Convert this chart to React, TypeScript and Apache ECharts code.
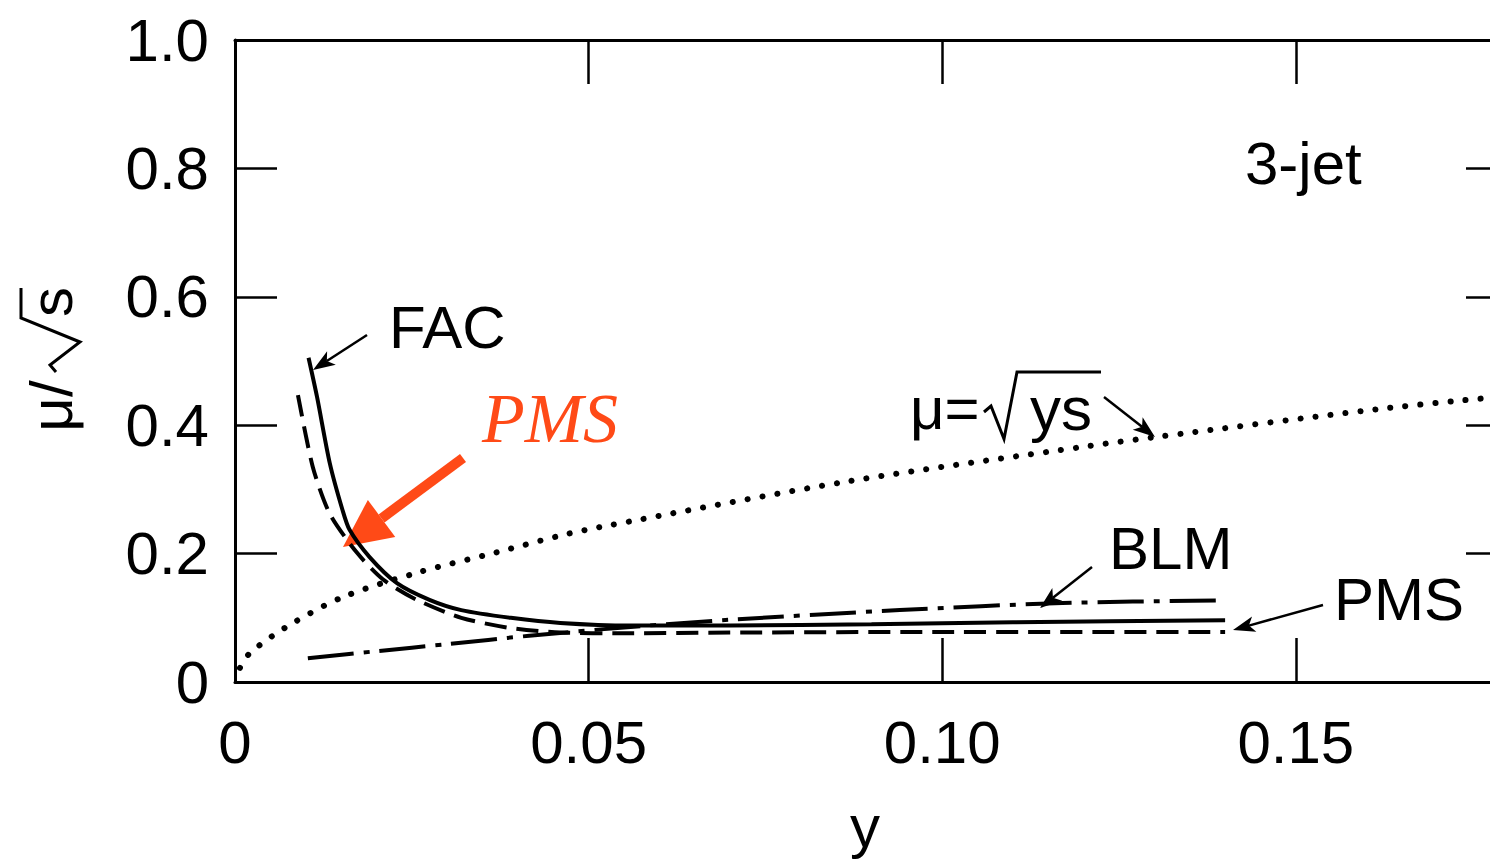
import React, { useEffect, useRef } from "react";
import * as echarts from "echarts";

// ---- data ----
const xTickLabels: Record<string, string> = { "0": "0", "0.05": "0.05", "0.1": "0.10", "0.15": "0.15" };
const yTickLabels: Record<string, string> = { "0": "0", "0.2": "0.2", "0.4": "0.4", "0.6": "0.6", "0.8": "0.8", "1": "1.0" };

const facX = [0.0104, 0.0116, 0.0134, 0.0152, 0.0162, 0.019, 0.0229, 0.0275, 0.032, 0.039, 0.046, 0.056, 0.07, 0.09, 0.11, 0.14];
const facY = [0.505, 0.444, 0.341, 0.268, 0.237, 0.195, 0.154, 0.128, 0.112, 0.1, 0.092, 0.088, 0.088, 0.09, 0.093, 0.096];

const pmsX = [0.0089, 0.011, 0.0134, 0.0172, 0.0209, 0.0257, 0.032, 0.039, 0.046, 0.055, 0.07, 0.1, 0.14];
const pmsY = [0.447, 0.335, 0.262, 0.202, 0.16, 0.128, 0.1, 0.084, 0.077, 0.076, 0.077, 0.078, 0.078];

const blmX = [0.0103, 0.02, 0.03, 0.0416, 0.055, 0.07, 0.094, 0.117, 0.14];
const blmY = [0.037, 0.048, 0.059, 0.072, 0.085, 0.097, 0.112, 0.123, 0.127];

const sqrtX = [0.0007, 0.0021, 0.0073, 0.0152, 0.026, 0.037, 0.046, 0.0515, 0.0864, 0.121, 0.1298, 0.1616, 0.1767];
const sqrtY = [0.022, 0.045, 0.086, 0.132, 0.171, 0.202, 0.228, 0.241, 0.312, 0.368, 0.381, 0.425, 0.442];

const zip = (xs: number[], ys: number[]) => xs.map((x, i) => [x, ys[i]]);

const FONT = "'Liberation Sans', Arial, Helvetica, sans-serif";

function arrow(tail: number[], tip: number[], len: number, half: number, width: number, color: string, barb = 0.75) {
  const dx = tip[0] - tail[0];
  const dy = tip[1] - tail[1];
  const L = Math.hypot(dx, dy);
  const ux = dx / L, uy = dy / L;
  const px = -uy, py = ux;
  const bx = tip[0] - ux * len, by = tip[1] - uy * len;
  const ix = tip[0] - ux * len * barb, iy = tip[1] - uy * len * barb;
  return [
    { type: "line", silent: true, shape: { x1: tail[0], y1: tail[1], x2: ix, y2: iy }, style: { stroke: color, lineWidth: width } },
    {
      type: "polygon",
      silent: true,
      shape: { points: [tip, [bx + px * half, by + py * half], [ix, iy], [bx - px * half, by - py * half]] },
      style: { fill: color },
    },
  ];
}

function text(t: string, x: number, y: number, size: number, opts: any = {}) {
  return {
    type: "text",
    x,
    y,
    rotation: opts.rotation || 0,
    silent: true,
    style: {
      text: t,
      fill: opts.color || "#000",
      font: `${opts.italic ? "italic " : ""}${size}px ${opts.family || FONT}`,
      align: opts.align || "left",
      verticalAlign: "middle",
    },
  };
}

export default function App() {
  const ref = useRef<HTMLDivElement>(null);
  useEffect(() => {
    document.body.style.margin = "0";
    const chart = echarts.init(ref.current!, undefined, { renderer: "svg" });
    const axisLine = { onZero: false, lineStyle: { color: "#000", width: 3 } };
    const xLabel = {
      fontSize: 60,
      fontFamily: FONT,
      color: "#000",
      margin: 30,
      showMaxLabel: false,
      formatter: (v: number) => xTickLabels[String(+v.toFixed(2))] ?? "",
    };
    const yLabel = {
      fontSize: 60,
      fontFamily: FONT,
      color: "#000",
      margin: 26,
      formatter: (v: number) => yTickLabels[String(+v.toFixed(1))] ?? "",
    };
    const xTick = { inside: true, length: 44, lineStyle: { color: "#000", width: 2.5 } };
    const yTick = { inside: true, length: 42, lineStyle: { color: "#000", width: 2.5 } };

    const graphic: any[] = [
      text("3-jet", 1245, 163, 60),
      text("FAC", 389, 327, 60),
      text("BLM", 1109, 548, 60),
      text("PMS", 1334, 599, 60),
      text("PMS", 482, 418, 70, { italic: true, color: "#ff4a17", family: "'Liberation Serif', serif" }),
      text("μ=", 910, 408, 60),
      { type: "polyline", silent: true, shape: { points: [[984, 412], [991, 406], [1004, 439], [1017, 372], [1101, 372]] }, style: { stroke: "#000", lineWidth: 3, fill: null } },
      text("ys", 1030, 408, 62),
      text("y", 865, 826, 60, { align: "center" }),
      // y axis name: μ/√s, rotated
      text("μ/", 51, 406, 60, { align: "center", rotation: Math.PI / 2 }),
      { type: "polyline", silent: true, shape: { points: [[21, 288], [21, 318], [80, 342], [50, 365], [56, 372]] }, style: { stroke: "#000", lineWidth: 3, fill: null } },
      text("s", 51, 302, 60, { align: "center", rotation: Math.PI / 2 }),
      ...arrow([367, 335], [313, 370], 22, 8, 2.5, "#000"),
      ...arrow([1104, 397], [1155, 437], 22, 8, 2.5, "#000"),
      ...arrow([1092, 567], [1040, 608], 22, 8, 2.5, "#000"),
      ...arrow([1323, 605], [1233, 630], 22, 8, 2.5, "#000"),
      ...arrow([463, 458], [343, 547], 48, 23, 10, "#ff4a17", 1),
    ];

    chart.setOption({
      animation: false,
      backgroundColor: "#fff",
      grid: { left: 235, top: 40, right: -18, bottom: 179, outerBoundsMode: "none", containLabel: false },
      xAxis: [
        { type: "value", min: 0, max: 0.18, interval: 0.05, position: "bottom", axisLine, axisTick: xTick, axisLabel: xLabel, splitLine: { show: false } },
        { type: "value", min: 0, max: 0.18, interval: 0.05, position: "top", axisLine, axisTick: xTick, axisLabel: { show: false }, splitLine: { show: false } },
      ],
      yAxis: [
        { type: "value", min: 0, max: 1, interval: 0.2, position: "left", axisLine, axisTick: yTick, axisLabel: yLabel, splitLine: { show: false } },
        { type: "value", min: 0, max: 1, interval: 0.2, position: "right", axisLine, axisTick: yTick, axisLabel: { show: false }, splitLine: { show: false } },
      ],
      series: [
        {
          name: "μ=√ys",
          type: "line",
          data: zip(sqrtX, sqrtY),
          showSymbol: false,
          smooth: 0.3,
          lineStyle: { color: "#000", width: 6, type: [0.1, 15], cap: "round" },
        },
        {
          name: "BLM",
          type: "line",
          data: zip(blmX, blmY),
          showSymbol: false,
          smooth: 0.3,
          lineStyle: { color: "#000", width: 4, type: [46, 10, 6, 10] },
        },
        {
          name: "PMS",
          type: "line",
          data: zip(pmsX, pmsY),
          showSymbol: false,
          smooth: 0.25,
          lineStyle: { color: "#000", width: 4, type: [22, 10] },
        },
        {
          name: "FAC",
          type: "line",
          data: zip(facX, facY),
          showSymbol: false,
          smooth: 0.25,
          lineStyle: { color: "#000", width: 4, type: "solid" },
        },
      ],
      graphic,
    });
    return () => chart.dispose();
  }, []);
  return <div ref={ref} style={{ width: 1490, height: 861, position: "absolute", left: 0, top: 0 }} />;
}
